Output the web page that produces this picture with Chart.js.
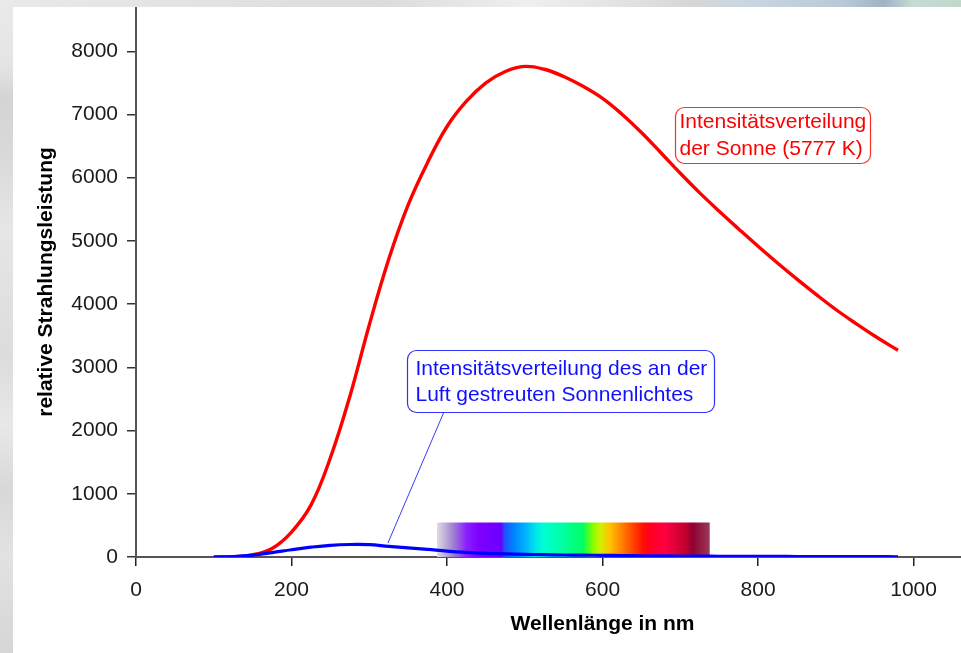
<!DOCTYPE html>
<html><head><meta charset="utf-8">
<script src="https://cdn.jsdelivr.net/npm/chart.js@4.4.1/dist/chart.umd.min.js"></script>
<style>
html,body{margin:0;padding:0;width:961px;height:653px;overflow:hidden;background:#e2e2e2;}
#topstrip{position:absolute;left:0;top:0;width:961px;height:7px;background:linear-gradient(to right,#e9e9e9 0%,#e3e3e3 20%,#dcdcdc 40%,#efefef 55%,#e2e2e2 65%,#d6d6d6 72%,#c8d6e2 78%,#b8c8d6 88%,#9fb3c4 92%,#c4dcd2 95%,#c0d8cc 100%)}
#leftstrip{position:absolute;left:0;top:0;width:13px;height:653px;background:linear-gradient(to bottom,#eaeaea 0%,#e4e4e4 10%,#d4d4d4 15%,#dadada 25%,#e6e6e6 35%,#dcdcdc 55%,#e8e8e8 65%,#d8d8d8 75%,#e2e2e2 85%,#d6d6d6 100%)}
#wrap{position:absolute;left:13px;top:7px;width:948px;height:646px;background:#fff}
</style>
</head><body>
<div id="topstrip"></div><div id="leftstrip"></div>
<div id="wrap"><canvas id="c"></canvas></div>
<script>
const wavelengths = [100,125,150,175,200,225,250,275,300,325,350,375,400,425,450,475,500,525,550,575,600,625,650,675,700,725,750,775,800,825,850,875,900,925,950,980];
const sunIntensity = [0,3,35,135,395,820,1570,2540,3670,4710,5570,6240,6810,7210,7500,7680,7760,7715,7600,7445,7255,7005,6715,6395,6070,5760,5470,5190,4915,4650,4395,4150,3915,3700,3495,3270];
const scatteredIntensity = [0,8,30,70,115,155,185,198,195,168,145,120,92,72,58,48,42,37,32,29,26,23,20,18,16,14,12,11,10,9,8,7,6,6,5,4];
const xTicks = [0,200,400,600,800,1000];
const yTicks = [0,1000,2000,3000,4000,5000,6000,7000,8000];
const spectrumRange = [387, 738];
const spectrumHeight = 545;
const spectrumStops = [387,408,425,440,470,474,485,500,515,525,550,575,587,597,610,625,640,652,661,680,707,716,738];
const spectrumColors = ['#e0dde2','#a080d0','#8a20ff','#7f00ff','#6a00ff','#2050ff','#0080ff','#00b0ff','#00e8e8','#00ffd0','#00ffa0','#00ff60','#80ff00','#d0f000','#ffc000','#ff8000','#ff4000','#ff1000','#ff0020','#ff0040','#c00030','#900030','#9a3a58'];
const sunLabel = ['Intensitätsverteilung','der Sonne (5777 K)'];
const scatterLabel = ['Intensitätsverteilung des an der','Luft gestreuten Sonnenlichtes'];
const xTitle = 'Wellenlänge in nm';
const yTitle = 'relative Strahlungsleistung';

const FONT = '"Liberation Sans", Arial, sans-serif';
const toXY = (ys) => wavelengths.map((w,i)=>({x:w,y:ys[i]}));

const annotations = [
  {lines:sunLabel, color:'#ff0000', border:'#ff2a2a', anchor:[693,7115], w:195, h:56, tx:4, ty:[14.7,41.3]},
  {lines:scatterLabel, color:'#1010ff', border:'#3030ff', anchor:[348,3273], w:307, h:62, tx:8, ty:[18.3,45],
   leader:{from:[396,2293], to:[324,221]}}
];

const annotationPlugin = {
  id:'annot',
  afterDatasetsDraw(chart){
    const {ctx, scales:{x,y}} = chart;
    ctx.save();
    annotations.forEach(a=>{
      if (a.leader){
        ctx.beginPath();
        ctx.strokeStyle = '#3a3aff'; ctx.lineWidth = 1;
        ctx.moveTo(x.getPixelForValue(a.leader.from[0]), y.getPixelForValue(a.leader.from[1]));
        ctx.lineTo(x.getPixelForValue(a.leader.to[0]), y.getPixelForValue(a.leader.to[1]));
        ctx.stroke();
      }
      const bx = Math.round(x.getPixelForValue(a.anchor[0]))+0.5;
      const by = Math.round(y.getPixelForValue(a.anchor[1]))+0.5;
      ctx.beginPath();
      ctx.roundRect(bx, by, a.w, a.h, 9);
      ctx.fillStyle = '#fff'; ctx.fill();
      ctx.strokeStyle = a.border; ctx.lineWidth = 1.2; ctx.stroke();
      ctx.fillStyle = a.color;
      ctx.font = '21px ' + FONT;
      ctx.textAlign = 'left'; ctx.textBaseline = 'middle';
      a.lines.forEach((t,i)=> ctx.fillText(t, bx + a.tx, by + a.ty[i]));
    });
    ctx.restore();
  },
  afterDraw(chart){
    const {ctx, chartArea, scales:{x}} = chart;
    ctx.save();
    ctx.font = 'bold 21px ' + FONT;
    ctx.fillStyle = '#000';
    ctx.textAlign = 'center'; ctx.textBaseline = 'middle';
    ctx.fillText(xTitle, x.getPixelForValue(600), chartArea.bottom + 67);
    ctx.restore();
  }
};

new Chart(document.getElementById('c'), {
  type:'line',
  data:{
    datasets:[
      {label:'Streulicht', data:toXY(scatteredIntensity), borderColor:'#0000ff', borderWidth:3.2, pointRadius:0, fill:false, tension:0.4, order:0},
      {label:'Sonne', data:toXY(sunIntensity), borderColor:'#ff0000', borderWidth:3.4, pointRadius:0, fill:false, tension:0.4, order:1},
      {label:'Spektrum', data:[{x:spectrumRange[0],y:spectrumHeight},{x:spectrumRange[1],y:spectrumHeight}],
       borderWidth:0, borderColor:'rgba(0,0,0,0)', pointRadius:0, fill:'origin', order:2,
       backgroundColor:(c)=>{
         const chart = c.chart; if(!chart.chartArea) return 'rgba(0,0,0,0)';
         const xs = chart.scales.x;
         const x0 = xs.getPixelForValue(spectrumRange[0]), x1 = xs.getPixelForValue(spectrumRange[1]);
         const g = chart.ctx.createLinearGradient(x0,0,x1,0);
         spectrumStops.forEach((nm,i)=>g.addColorStop((nm-spectrumRange[0])/(spectrumRange[1]-spectrumRange[0]), spectrumColors[i]));
         return g;
       }}
    ]
  },
  options:{
    responsive:true, maintainAspectRatio:false, animation:false,
    layout:{padding:0},
    plugins:{legend:{display:false}, tooltip:{enabled:false}},
    scales:{
      x:{type:'linear', min:0, max:1061,
        afterFit:(s)=>{s.height = 96; s.paddingLeft = 0; s.paddingRight = 0;},
        afterBuildTicks:(s)=>{s.ticks = xTicks.map(v=>({value:v}));},
        ticks:{font:{size:21, family:FONT}, color:'#1a1a1a', padding:12, maxRotation:0, autoSkip:false, callback:(v)=>String(v)},
        grid:{drawOnChartArea:false, tickLength:9, color:'#222', lineWidth:1.5},
        border:{color:'#555', width:2}},
      y:{min:0, max:8700,
        afterFit:(s)=>{s.width = 123; s.paddingTop = 0; s.paddingBottom = 0;},
        afterBuildTicks:(s)=>{s.ticks = yTicks.map(v=>({value:v}));},
        ticks:{font:{size:21, family:FONT}, color:'#1a1a1a', padding:9, autoSkip:false, callback:(v)=>String(v)},
        grid:{drawOnChartArea:false, tickLength:9, color:'#333', lineWidth:1.5},
        border:{color:'#555', width:2},
        title:{display:true, text:yTitle, font:{size:21, weight:'bold', family:FONT}, color:'#000', padding:{top:21, bottom:0}}}
    }
  },
  plugins:[annotationPlugin]
});
</script>
</body></html>
